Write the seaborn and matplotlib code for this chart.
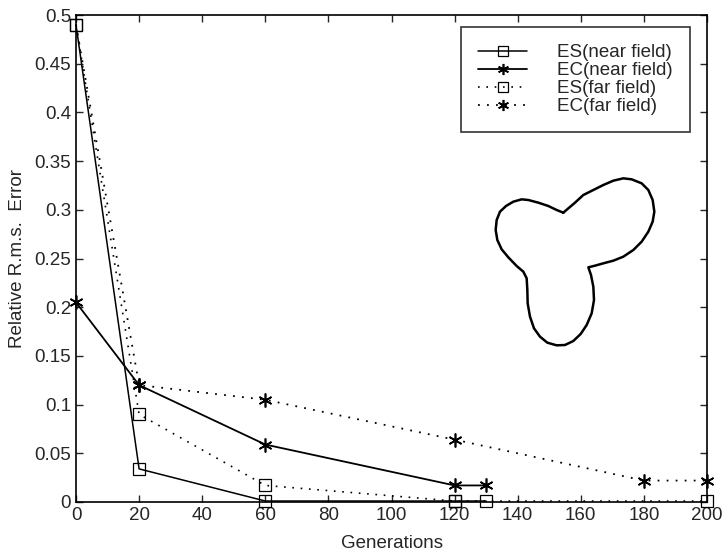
import numpy as np
import pandas as pd
import seaborn as sns
import matplotlib
matplotlib.use('Agg')
import matplotlib.pyplot as plt

# series
es_near_x = [0, 20, 60, 120, 130]
es_near_y = [0.49, 0.034, 0.001, 0.001, 0.001]
ec_near_x = [0, 20, 60, 120, 130]
ec_near_y = [0.205, 0.12, 0.059, 0.017, 0.017]
es_far_x = [0, 20, 60, 120, 200]
es_far_y = [0.49, 0.09, 0.017, 0.001, 0.001]
ec_far_x = [0, 20, 60, 120, 180, 200]
ec_far_y = [0.49, 0.12, 0.105, 0.064, 0.022, 0.022]

# outline of the scatterer drawn as inset (traced points)
shape_x = [310, 290, 265, 235, 205, 185, 160, 138, 120, 110, 107, 112, 125, 145, 170, 190, 200,
           202, 203, 210, 222, 240, 262, 290, 315, 340, 362, 380, 395, 402, 400, 393, 385,
           405, 430, 460, 490, 520, 545, 565, 578, 583, 578, 565, 545, 515, 490, 460, 430,
           400, 370, 345, 325, 310]
shape_y = [188, 180, 168, 158, 150, 148, 155, 168, 185, 210, 240, 270, 298, 322, 348, 365, 385,
           420, 460, 500, 535, 560, 578, 586, 585, 573, 552, 525, 490, 450, 410, 375, 352,
           347, 340, 332, 320, 300, 275, 245, 215, 185, 150, 120, 100, 88, 85, 92, 105,
           120, 135, 158, 175, 188]

sns.set_style("ticks")
plt.rcParams['font.family'] = ['Liberation Sans', 'DejaVu Sans']
plt.rcParams['xtick.direction'] = 'in'
plt.rcParams['ytick.direction'] = 'in'
plt.rcParams['xtick.top'] = True
plt.rcParams['ytick.right'] = True

fig = plt.figure(figsize=(7.23, 5.56), dpi=100)
ax = fig.add_axes([76 / 723, 1 - 502 / 556, 631 / 723, 487 / 556])

star = (6, 2, 0)
dots = (0, (1, 4))
common = dict(ax=ax, color='black', clip_on=False)
sns.lineplot(x=es_near_x, y=es_near_y, lw=1.1, marker='s', markersize=9,
             markerfacecolor='none', markeredgecolor='black', markeredgewidth=0.9,
             label='ES(near field)', **common)
sns.lineplot(x=ec_near_x, y=ec_near_y, lw=1.3, marker=star, markersize=10,
             markeredgecolor='black', markeredgewidth=1.2, label='EC(near field)', **common)
sns.lineplot(x=es_far_x, y=es_far_y, lw=1.2, linestyle=dots, marker='s', markersize=9,
             markerfacecolor='none', markeredgecolor='black', markeredgewidth=0.9,
             label='ES(far field)', **common)
# first far-field EC point sits under the ES square, no star visible there
sns.lineplot(x=ec_far_x, y=ec_far_y, lw=1.3, linestyle=dots, marker=star, markersize=10,
             markeredgecolor='black', markeredgewidth=1.2, markevery=list(range(1, len(ec_far_x))),
             label='EC(far field)', **common)

ax.set_xlim(0, 200)
ax.set_ylim(0, 0.5)
ax.set_xticks(np.arange(0, 201, 20))
ax.set_yticks(np.arange(0, 0.501, 0.05))
ax.set_yticklabels(['0', '0.05', '0.1', '0.15', '0.2', '0.25', '0.3', '0.35', '0.4', '0.45', '0.5'])
ax.tick_params(labelsize=13.5, length=5, width=1)
for s in ax.spines.values():
    s.set_linewidth(1.2)
    s.set_color('black')
ax.set_xlabel('Generations', fontsize=13.5, labelpad=8)
ax.set_ylabel('Relative R.m.s.  Error', fontsize=13.5, labelpad=6)

leg = ax.legend(loc='upper right', fontsize=13.5, frameon=True, fancybox=False, edgecolor='black',
                handlelength=2.65, borderpad=0.9, labelspacing=0.05, handletextpad=1.6,
                borderaxespad=0, bbox_to_anchor=(0.973, 0.975), markerscale=0.8)
leg.get_frame().set_linewidth(1.2)

ins = fig.add_axes([460 / 723, 1 - 350 / 556, 220 / 723, 200 / 556])
ins.plot(shape_x, shape_y, color='black', lw=1.8)
ins.set_xlim(0, 660)
ins.set_ylim(600, 0)
ins.axis('off')

fig.savefig('out.png', dpi=100)
